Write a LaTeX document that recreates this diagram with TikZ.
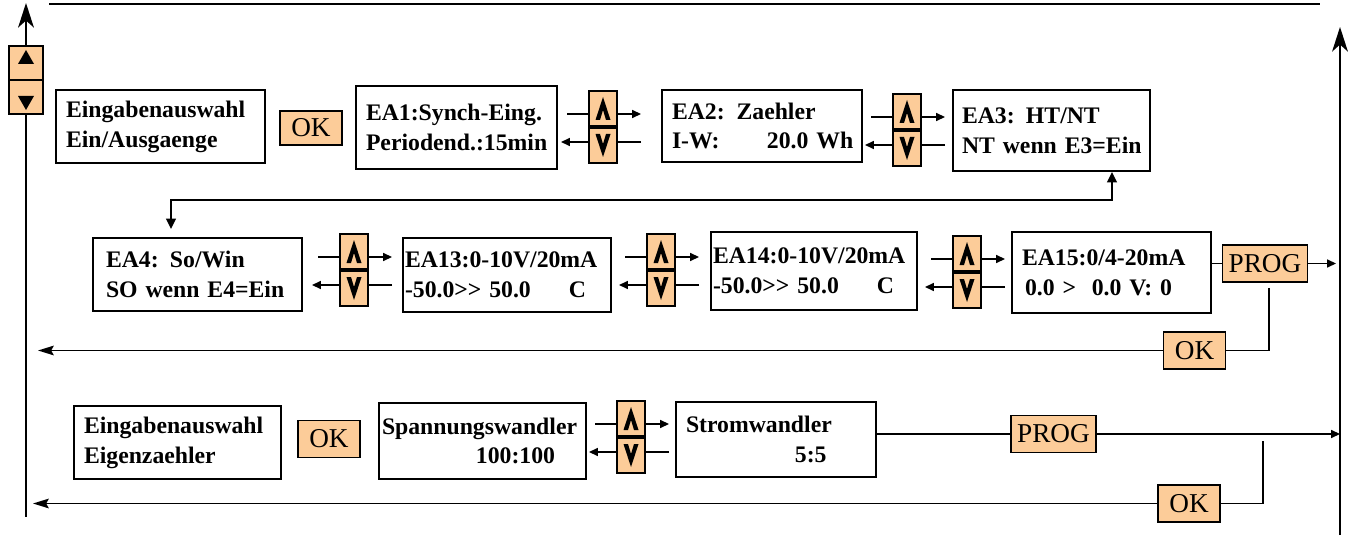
\documentclass[tikz,border=0pt]{standalone}
\usepackage{fontspec}
\setmainfont{Liberation Serif}
\usetikzlibrary{arrows.meta,calc}
\newcommand\pxu{0.02cm}
\newcommand\dispfont{\fontsize{13.5}{17}\selectfont\bfseries}
\newcommand\keyfont{\fontsize{15.5}{17}\selectfont}
\definecolor{keyfill}{RGB}{252,204,153}
\tikzset{
  disp/.style n args={3}{draw, line width=1pt, align=left, font=\dispfont,
    inner ysep=0pt, inner xsep=#3*\pxu, text width=(#1-2*#3)*\pxu,
    minimum height=#2*\pxu},
  key/.style={draw, line width=1pt, fill=keyfill, font=\keyfont, inner sep=0pt,
    minimum height=37*\pxu},
  okkey/.style={key, minimum width=62*\pxu},
  progkey/.style={key, minimum width=85*\pxu},
  udkey/.style={draw, line width=1pt, fill=keyfill, inner sep=0pt,
    minimum width=28*\pxu, minimum height=35*\pxu},
  tip/.style={-{Triangle[length=5pt,width=4.5pt]}},
  backtip/.style={-{Stealth[length=9pt,width=5.5pt,inset=1.5pt]}},
  railtip/.style={line width=1pt, -{Stealth[length=14pt,width=9pt,inset=4pt]}},
  link/.style={line width=1.2pt, {Triangle[length=6pt,width=5.5pt]}-{Triangle[length=6pt,width=5.5pt]}},
  updn/.pic={
    \draw[tip] (-36,-13) -- (38,-13);
    \draw[tip] (38,15) -- (-42,15);
    \node[udkey, anchor=south] (-up) at (0,0) {};
    \node[udkey, anchor=north] (-dn) at (0,0) {};
    \fill (0,-30) -- (7.5,-7) -- (3,-7) -- (0,-17) -- (-3,-7) -- (-7.5,-7) -- cycle;
    \fill (0,30) -- (7.5,7) -- (3,7) -- (0,17) -- (-3,7) -- (-7.5,7) -- cycle;
  }
}

\begin{document}
\begin{tikzpicture}[x=0.02cm, y=-0.02cm, line width=0.8pt]
  \useasboundingbox (0,0) rectangle (1356,537);

  \coordinate (topL) at (49,4);
  \coordinate (topR) at (1320,4);
  \coordinate (railLtop) at (26,3);
  \coordinate (railL) at (26,517);
  \coordinate (railRtop) at (1340,27);
  \coordinate (railR) at (1340,535);

  % outer frame
  \draw[line width=1pt] (topL) -- (topR);
  \node[udkey, minimum width=34*\pxu, minimum height=34*\pxu] (lup) at (26,63) {};
  \node[udkey, minimum width=34*\pxu, minimum height=34*\pxu] (ldn) at (26,97) {};
  \fill (26,50) -- (34,64) -- (18,64) -- cycle;
  \fill (18,96) -- (34,96) -- (26,110) -- cycle;
  \draw[railtip] (lup.north) -- (railLtop);
  \draw (ldn.south) -- (railL);
  \draw[railtip] (railR) -- (railRtop);

  % row 1
  \node[disp={209}{73}{10}] (inA) at (160.5,126.5) {Eingabenauswahl\\Ein/Ausgaenge};
  \node[okkey, minimum height=34*\pxu] (okA) at (311,128) {OK};
  \node[disp={201}{83}{10}] (ea1) at (456.5,127.5) {EA1:Synch-Eing.\\Periodend.:15min};
  \pic (ud1) at (603,127) {updn};
  \node[disp={200}{72}{10}] (ea2) at (762,126) {EA2: Zaehler\\\mbox{\makebox[1.9cm][l]{I-W:}20.0 Wh}};
  \pic (ud2) at (907,130) {updn};
  \node[disp={197}{81}{9}] (ea3) at (1051.5,130.5) {\makebox[1.28cm][l]{EA3:}HT/NT\\\mbox{NT wenn E3=Ein}};

  % row 2
  \node[disp={209}{73}{13}] (ea4) at (197.5,274.5) {\makebox[1.28cm][l]{EA4:}So/Win\\SO wenn E4=Ein};
  \pic (ud3) at (354,270) {updn};
  \node[disp={208}{74}{2}] (ea13) at (507,275) {EA13:0-10V/20mA\\\mbox{\makebox[3.28cm][l]{-50.0>{}> 50.0}C}};
  \pic (ud4) at (661,270) {updn};
  \node[disp={206}{78}{2}] (ea14) at (814,271) {EA14:0-10V/20mA\\\mbox{\makebox[3.28cm][l]{-50.0>{}> 50.0}C}};
  \pic (ud5) at (967,272) {updn};
  \node[disp={199}{81}{10}] (ea15) at (1111.5,272.5) {EA15:0/4-20mA\\\hspace*{0.06cm}0.0 >\ \ 0.0 V: 0};
  \node[progkey] (progA) at (1265,263.5) {PROG};
  \node[okkey] (okB) at (1194.5,350.5) {OK};
  \coordinate (retA) at (38,351);

  \coordinate (linkA) at (1112,200);
  \coordinate (linkB) at (171,200);
  \draw[link, shorten >=0.16cm] (ea3.south -| linkA) |- (linkB) -- (ea4.north -| linkB);

  \draw (ea15.east |- progA.west) -- (progA.west);
  \draw[tip] (progA.east) -- ($(progA.east -| railR)+(-4,0)$);
  \draw ($(progA.south)+(4,5)$) |- (okB.east);
  \draw[backtip] (okB.west) -- (okB.west -| retA);

  % row 3
  \node[disp={207}{73}{10}] (inB) at (177.5,442.5) {Eingabenauswahl\\Eigenzaehler};
  \node[okkey] (okC) at (329,439) {OK};
  \node[disp={207}{76}{3}] (spw) at (482.5,441) {Spannungswandler\\\hspace*{1.88cm}100:100};
  \pic (ud6) at (631,437) {updn};
  \node[disp={200}{75}{10}] (stw) at (776,439.5) {Stromwandler\\\hspace*{2.18cm}5:5};
  \node[progkey] (progB) at (1053.5,434) {PROG};
  \node[okkey] (okD) at (1189,503.5) {OK};
  \coordinate (dropB) at (1263,441);
  \coordinate (retB) at (33,503.5);

  \draw (stw.east |- progB.west) -- (progB.west);
  \draw[tip] (progB.east) -- (progB.east -| railR);
  \draw (dropB) |- (okD.east);
  \draw[backtip] (okD.west) -- (okD.west -| retB);
\end{tikzpicture}
\end{document}
